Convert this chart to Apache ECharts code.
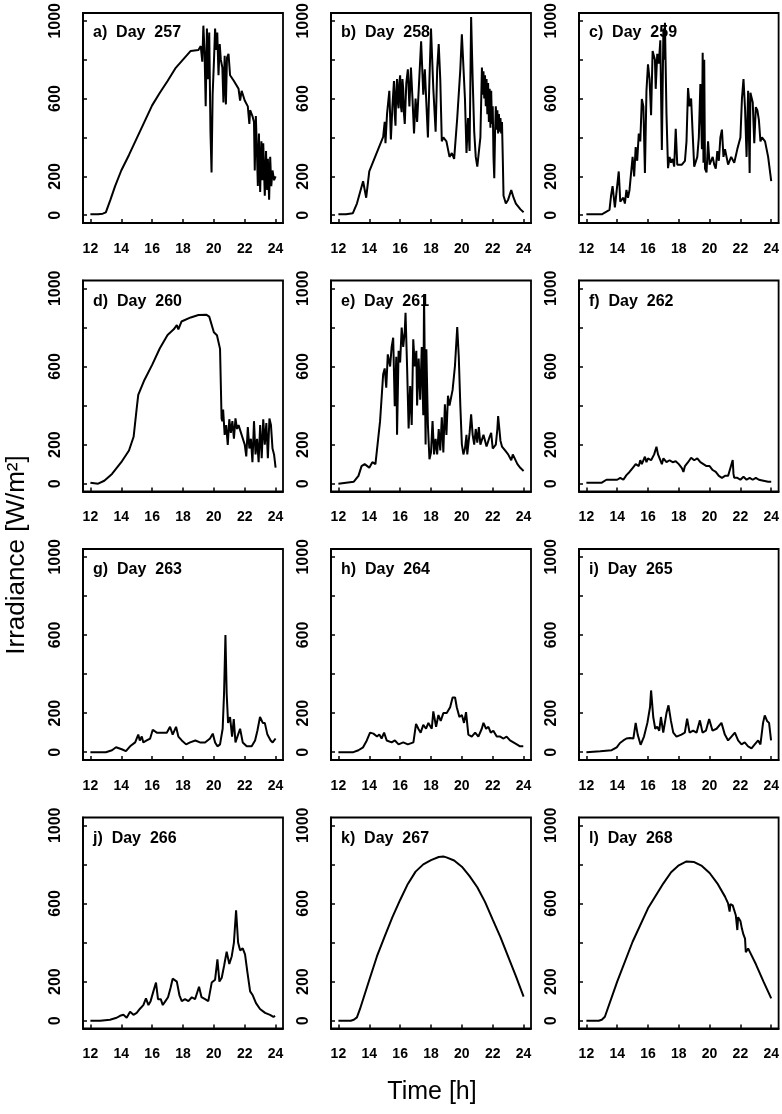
<!DOCTYPE html>
<html>
<head>
<meta charset="utf-8">
<script src="https://cdn.jsdelivr.net/npm/echarts@6/dist/echarts.min.js"></script>
<style>
html,body{margin:0;padding:0;background:#fff;}
#chart{width:782px;height:1114px;}
</style>
</head>
<body>
<div id="chart"></div>
<script>
// ---- data: [hour, irradiance W/m2] ----
const panelLabels = ['a)  Day  257','b)  Day  258','c)  Day  259','d)  Day  260','e)  Day  261','f)  Day  262',
                     'g)  Day  263','h)  Day  264','i)  Day  265','j)  Day  266','k)  Day  267','l)  Day  268'];
const xTicks = [12,14,16,18,20,22,24];
const yTicks = [0,200,400,600,800,1000];
const yTickLabels = [0,200,600,1000];

const d257 = [[12,5],[12.5,5],[12.8,8],[13.0,15],[13.3,80],[13.6,150],[14.0,230],[14.5,310],[15.0,395],[15.5,480],[16.0,565],
 [16.5,630],[17.0,690],[17.5,755],[18.0,800],[18.5,845],[19.0,850],[19.15,870],[19.25,790],[19.32,975],[19.4,830],[19.47,560],
 [19.55,960],[19.62,700],[19.7,940],[19.78,430],[19.85,220],[19.92,620],[20.0,780],[20.08,960],[20.15,850],[20.22,940],[20.3,720],
 [20.38,880],[20.45,800],[20.55,760],[20.62,580],[20.7,820],[20.78,570],[20.85,810],[20.95,830],[21.05,720],[21.3,690],[21.6,650],
 [21.7,590],[21.8,640],[22.0,590],[22.2,560],[22.3,470],[22.35,540],[22.5,510],[22.6,480],[22.65,230],[22.72,510],[22.8,300],
 [22.85,150],[22.92,420],[23.0,120],[23.08,380],[23.15,180],[23.2,370],[23.3,100],[23.38,330],[23.45,130],[23.5,290],[23.58,80],
 [23.65,300],[23.72,150],[23.8,230],[23.9,180],[24.0,200]];
const d258 = [[12,5],[12.5,5],[12.93,10],[13.2,60],[13.6,175],[13.8,90],[14.0,225],[14.3,285],[14.6,344],[14.9,403],[15.0,480],
 [15.05,370],[15.15,520],[15.3,640],[15.4,390],[15.5,560],[15.6,690],[15.65,520],[15.7,460],[15.75,640],[15.8,700],[15.85,580],
 [15.9,550],[15.95,680],[16.0,720],[16.05,560],[16.1,530],[16.15,700],[16.2,650],[16.25,520],[16.3,470],[16.4,680],[16.5,750],
 [16.6,560],[16.7,760],[16.8,600],[16.9,420],[17.0,600],[17.1,480],[17.2,640],[17.36,895],[17.5,620],[17.6,750],[17.8,400],
 [17.9,700],[18.0,960],[18.15,650],[18.3,430],[18.4,750],[18.5,880],[18.6,700],[18.7,380],[18.8,400],[19.0,380],[19.2,300],
 [19.35,320],[19.5,290],[19.7,500],[19.9,750],[20.0,930],[20.2,600],[20.3,320],[20.4,500],[20.5,330],[20.6,1020],[20.7,700],
 [20.8,430],[20.9,300],[21.0,250],[21.2,400],[21.3,760],[21.35,620],[21.4,740],[21.45,600],[21.5,720],[21.55,560],[21.6,700],
 [21.65,520],[21.7,680],[21.75,480],[21.8,650],[21.85,450],[21.9,640],[21.95,470],[22.0,560],[22.05,300],[22.1,190],[22.15,420],
 [22.2,560],[22.25,440],[22.3,540],[22.35,420],[22.4,520],[22.45,430],[22.5,500],[22.55,420],[22.6,480],[22.65,300],[22.7,100],
 [22.85,60],[23.0,80],[23.2,130],[23.35,90],[23.5,60],[23.8,30],[24.0,15]];
const d259 = [[12,5],[12.5,5],[13.0,5],[13.5,27],[13.6,100],[13.7,150],[13.85,40],[14.1,225],[14.2,70],[14.4,90],[14.5,60],
 [14.6,130],[14.7,90],[14.8,130],[15.0,300],[15.1,200],[15.2,350],[15.3,280],[15.4,420],[15.5,380],[15.6,598],[15.7,560],
 [15.8,217],[15.9,640],[16.0,776],[16.1,700],[16.2,514],[16.3,844],[16.45,800],[16.5,650],[16.6,830],[16.7,780],[16.8,900],
 [16.9,335],[17.0,960],[17.05,800],[17.1,990],[17.2,520],[17.3,242],[17.4,300],[17.5,270],[17.6,290],[17.7,250],[17.8,445],
 [17.9,260],[18.0,250],[18.2,260],[18.4,280],[18.5,380],[18.6,654],[18.7,560],[18.8,600],[18.9,420],[19.0,250],[19.1,240],
 [19.2,300],[19.3,400],[19.4,675],[19.5,340],[19.55,836],[19.6,270],[19.65,800],[19.7,240],[19.8,220],[19.9,380],[20.0,260],
 [20.2,300],[20.3,260],[20.4,240],[20.5,330],[20.6,280],[20.7,400],[20.8,440],[20.9,300],[21.0,340],[21.2,260],[21.4,300],
 [21.6,270],[21.8,340],[22.0,400],[22.1,600],[22.2,700],[22.3,550],[22.4,300],[22.5,640],[22.6,217],[22.65,630],[22.8,580],
 [22.9,370],[23.0,556],[23.1,540],[23.2,490],[23.3,380],[23.4,400],[23.6,380],[23.8,300],[24.0,175]];
const d260 = [[12,5],[12.5,0],[12.9,15],[13.4,50],[14.0,110],[14.5,170],[14.8,240],[15.0,386],[15.1,455],[15.5,531],[16.0,608],
 [16.5,693],[17.0,761],[17.4,790],[17.6,812],[17.7,790],[17.9,830],[18.0,840],[18.5,851],[19.0,863],[19.5,865],[19.7,855],
 [20.0,775],[20.2,760],[20.4,690],[20.5,334],[20.55,320],[20.6,380],[20.7,250],[20.8,300],[20.9,198],[21.0,330],[21.1,260],
 [21.2,320],[21.3,230],[21.4,334],[21.5,280],[21.6,300],[21.8,250],[22.0,200],[22.1,140],[22.2,290],[22.3,180],[22.4,230],
 [22.5,110],[22.6,320],[22.7,150],[22.8,230],[22.9,110],[23.0,300],[23.1,130],[23.2,330],[23.3,200],[23.4,310],[23.5,130],
 [23.6,334],[23.7,300],[23.8,180],[23.9,150],[24.0,82]];
const d261 = [[12,0],[13.0,10],[13.3,40],[13.5,90],[13.7,100],[14.0,82],[14.2,110],[14.4,100],[14.7,320],[14.9,560],[15.0,590],
 [15.1,491],[15.2,662],[15.35,600],[15.45,700],[15.55,747],[15.65,397],[15.75,650],[15.8,250],[15.9,680],[16.0,620],[16.1,799],
 [16.2,700],[16.3,780],[16.35,875],[16.45,600],[16.55,283],[16.65,500],[16.75,300],[16.85,739],[16.95,600],[17.05,680],
 [17.1,400],[17.2,640],[17.3,430],[17.4,700],[17.5,350],[17.55,970],[17.65,200],[17.7,688],[17.8,300],[17.9,125],[18.0,160],
 [18.1,320],[18.2,150],[18.3,230],[18.4,150],[18.5,280],[18.6,170],[18.7,340],[18.8,160],[18.9,406],[19.0,250],[19.1,450],
 [19.2,400],[19.4,480],[19.55,600],[19.7,802],[19.8,650],[19.9,400],[20.0,201],[20.1,150],[20.2,180],[20.3,250],[20.35,150],
 [20.5,260],[20.6,355],[20.7,250],[20.8,200],[20.9,280],[21.0,210],[21.1,290],[21.2,200],[21.4,250],[21.6,190],[21.8,240],
 [21.9,260],[22.0,180],[22.2,200],[22.3,280],[22.35,346],[22.5,220],[22.6,190],[22.8,170],[23.0,150],[23.2,120],[23.3,150],
 [23.4,159],[23.6,100],[23.8,80],[24.0,65]];
const d262 = [[12,5],[13.0,5],[13.3,20],[14.0,20],[14.2,30],[14.4,20],[14.6,44],[14.8,60],[15.0,80],[15.2,100],[15.4,90],
 [15.5,120],[15.6,100],[15.8,138],[15.9,110],[16.0,130],[16.2,120],[16.4,150],[16.55,189],[16.65,150],[16.8,120],[16.9,100],
 [17.0,130],[17.2,110],[17.4,120],[17.6,110],[17.8,115],[18.0,100],[18.2,80],[18.3,60],[18.4,90],[18.6,110],[18.8,133],
 [19.0,120],[19.2,130],[19.4,110],[19.6,100],[19.8,90],[20.0,90],[20.2,70],[20.4,60],[20.6,40],[20.8,30],[21.0,40],[21.2,40],
 [21.35,80],[21.5,121],[21.55,50],[21.6,30],[21.8,30],[22.0,20],[22.2,35],[22.4,20],[22.6,30],[22.8,20],[23.0,30],[23.2,20],
 [23.5,15],[23.8,10],[24.0,10]];
const d263 = [[12,0],[13.0,0],[13.4,10],[13.66,25],[14.03,15],[14.3,5],[14.57,30],[14.9,50],[15.1,90],[15.2,60],[15.33,80],
 [15.43,50],[15.65,60],[15.87,70],[16.04,115],[16.3,100],[16.62,100],[16.95,100],[17.16,130],[17.33,90],[17.55,130],[17.7,80],
 [17.92,60],[18.2,40],[18.46,50],[18.8,60],[19.1,50],[19.43,50],[19.75,70],[19.93,95],[20.08,50],[20.23,30],[20.4,40],
 [20.57,120],[20.66,300],[20.75,600],[20.83,300],[20.92,150],[21.05,180],[21.18,80],[21.29,170],[21.4,50],[21.52,40],
 [21.7,120],[21.87,50],[22.13,30],[22.45,30],[22.67,60],[22.82,110],[22.99,180],[23.17,150],[23.3,150],[23.47,90],[23.68,60],
 [23.81,50],[24.0,70]];
const d264 = [[12,0],[12.97,0],[13.3,10],[13.6,25],[13.84,60],[14.05,100],[14.27,95],[14.5,80],[14.65,90],[14.8,70],[14.96,100],
 [15.13,60],[15.45,50],[15.66,60],[15.9,40],[16.2,50],[16.5,40],[16.86,50],[17.03,145],[17.18,120],[17.33,100],[17.5,140],
 [17.68,120],[17.83,150],[18.05,120],[18.15,209],[18.33,130],[18.48,190],[18.63,160],[18.8,200],[19.02,200],[19.24,230],
 [19.4,280],[19.56,280],[19.67,230],[19.84,180],[20.0,190],[20.14,150],[20.27,205],[20.42,90],[20.64,80],[20.86,100],[21.07,80],
 [21.29,120],[21.4,150],[21.57,120],[21.72,130],[21.87,100],[22.04,110],[22.26,80],[22.48,80],[22.7,70],[22.9,80],[23.12,60],
 [23.34,50],[23.56,40],[23.77,30],[23.98,30]];
const d265 = [[12,0],[12.9,5],[13.64,10],[13.97,25],[14.18,47],[14.4,60],[14.6,70],[14.83,73],[15.05,70],[15.2,150],[15.33,90],
 [15.52,38],[15.74,80],[15.96,150],[16.13,230],[16.2,316],[16.34,180],[16.47,120],[16.6,130],[16.73,110],[16.84,180],[16.99,100],
 [17.2,200],[17.33,240],[17.49,160],[17.64,100],[17.85,80],[18.17,90],[18.39,100],[18.54,172],[18.7,100],[18.93,110],[19.15,100],
 [19.37,163],[19.54,100],[19.76,110],[19.97,170],[20.19,110],[20.45,120],[20.77,150],[20.99,90],[21.2,60],[21.42,80],[21.64,100],
 [21.85,60],[22.07,40],[22.28,50],[22.5,30],[22.72,20],[22.93,40],[23.15,60],[23.3,40],[23.47,150],[23.58,188],[23.73,160],
 [23.86,150],[23.99,60]];
const d266 = [[12,0],[12.63,0],[13.27,5],[13.7,15],[13.92,25],[14.14,30],[14.35,15],[14.57,46],[14.79,30],[15.0,40],[15.2,60],
 [15.43,80],[15.6,114],[15.76,80],[15.9,100],[16.08,150],[16.25,195],[16.38,110],[16.56,110],[16.69,80],[16.86,100],[17.03,120],
 [17.2,170],[17.33,215],[17.6,200],[17.77,130],[17.92,100],[18.13,110],[18.35,100],[18.57,120],[18.78,110],[19.04,174],
 [19.2,120],[19.43,110],[19.64,100],[19.86,195],[20.08,210],[20.23,314],[20.36,200],[20.51,220],[20.66,280],[20.83,353],
 [21.0,290],[21.16,330],[21.3,400],[21.44,565],[21.57,400],[21.7,360],[21.87,370],[22.02,340],[22.17,250],[22.35,150],
 [22.52,130],[22.73,90],[22.99,60],[23.32,40],[23.64,30],[23.86,20],[23.97,25]];
const d267 = [[12,0],[12.8,0],[13.0,5],[13.2,17],[13.4,60],[14.0,208],[14.5,330],[15.0,432],[15.5,530],[16.0,618],[16.5,700],
 [17.0,763],[17.5,800],[18.0,822],[18.5,838],[18.8,840],[19.0,836],[19.5,820],[20.0,788],[20.5,740],[21.0,683],[21.5,608],
 [22.0,517],[22.5,428],[23.0,328],[23.5,228],[24.0,123]];
const d268 = [[12,0],[12.8,0],[13.0,5],[13.2,20],[14.0,200],[15.0,404],[16.0,575],[17.0,703],[17.5,760],[18.0,795],[18.5,815],
 [19.0,812],[19.5,792],[20.0,756],[20.5,703],[21.0,635],[21.2,600],[21.3,558],[21.35,597],[21.5,590],[21.7,540],[21.8,464],
 [21.85,530],[22.0,510],[22.1,470],[22.2,440],[22.3,420],[22.35,350],[22.5,370],[22.6,360],[23.0,290],[23.5,200],[24.0,114]];

const dayData = [d257,d258,d259,d260,d261,d262,d263,d264,d265,d266,d267,d268];

// ---- layout ----
const gridLefts = [83, 331, 579];
const gridTops = [12, 280.5, 549, 817.5];
const gw = 200, gh = 211;
const FONT = 'Liberation Sans, Arial, sans-serif';

const grids = [], xAxes = [], yAxes = [], series = [], titles = [];
dayData.forEach((d, i) => {
  const r = Math.floor(i / 3), c = i % 3;
  grids.push({left: gridLefts[c], top: gridTops[r], width: gw, height: gh, show: true,
              borderColor: '#000', borderWidth: 1.8, backgroundColor: 'transparent', containLabel: false});
  xAxes.push({type: 'value', gridIndex: i, min: 11.52, max: 24.48,
    axisLine: {show: true, onZero: false, lineStyle: {color: '#000', width: 1.8}},
    axisTick: {show: true, inside: true, length: 4, customValues: xTicks, lineStyle: {color: '#000', width: 1.5}},
    axisLabel: {show: true, customValues: xTicks, margin: 19, color: '#000',
                fontFamily: FONT, fontWeight: 'bold', fontSize: 14, formatter: v => String(v)},
    splitLine: {show: false}});
  yAxes.push({type: 'value', gridIndex: i, min: -40, max: 1040,
    axisLine: {show: true, onZero: false, lineStyle: {color: '#000', width: 1.8}},
    axisTick: {show: true, inside: true, length: 4, customValues: yTicks, lineStyle: {color: '#000', width: 1.5}},
    axisLabel: {show: true, customValues: yTickLabels, rotate: 90, margin: 19, color: '#000',
                fontFamily: FONT, fontWeight: 'bold', fontSize: 16, formatter: v => String(v)},
    splitLine: {show: false}});
  series.push({type: 'line', xAxisIndex: i, yAxisIndex: i, data: d, showSymbol: false, symbol: 'none',
    lineStyle: {color: '#000', width: 2}, animation: false, silent: true});
  titles.push({text: panelLabels[i], left: gridLefts[c] + 5, top: gridTops[r] + 8,
    textStyle: {fontFamily: FONT, fontWeight: 'bold', fontSize: 16, color: '#000'}});
});

const chart = echarts.init(document.getElementById('chart'), null, {renderer: 'canvas'});
chart.setOption({
  backgroundColor: '#fff',
  animation: false,
  title: titles,
  grid: grids,
  xAxis: xAxes,
  yAxis: yAxes,
  series: series,
  graphic: [
    {type: 'text', x: 17, y: 555, rotation: Math.PI / 2,
     style: {text: 'Irradiance [W/m²]', font: '26px "Liberation Sans", Arial, sans-serif', fill: '#000',
             align: 'center', verticalAlign: 'middle'}},
    {type: 'text', x: 432, y: 1092,
     style: {text: 'Time [h]', font: '25px "Liberation Sans", Arial, sans-serif', fill: '#000',
             align: 'center', verticalAlign: 'middle'}}
  ]
});
</script>
</body>
</html>
